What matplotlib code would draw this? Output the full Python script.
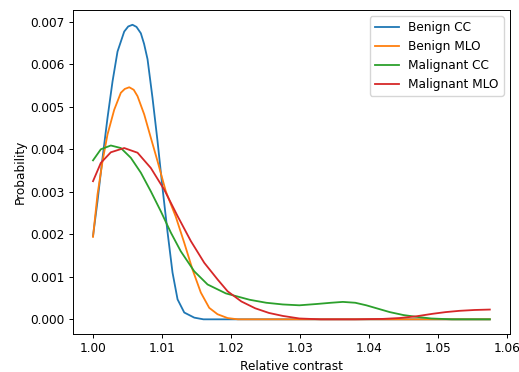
import numpy as np
import matplotlib.pyplot as plt

# values
benign_cc_x = [1.0, 1.00065, 1.00138, 1.0021, 1.00283, 1.00355, 1.00452, 1.0051, 1.00572, 1.0063, 1.00693,
               1.0074, 1.0079, 1.00862, 1.00935, 1.01007, 1.0108, 1.01152, 1.01225, 1.01322, 1.01467, 1.016,
               1.02, 1.03, 1.04, 1.05, 1.0575]
benign_cc_y = [0.00196, 0.00278, 0.0038, 0.00474, 0.0056, 0.0063, 0.00677, 0.00689, 0.00693, 0.00688, 0.00673,
               0.00648, 0.00612, 0.00521, 0.00419, 0.00309, 0.00205, 0.0011, 0.00047, 0.00016, 0.00004, 0.0,
               0.0, 0.0, 0.0, 0.0, 0.0]

benign_mlo_x = [1.0, 1.00065, 1.00138, 1.0021, 1.00307, 1.00403, 1.0046, 1.00525, 1.0059, 1.00645, 1.00742,
                1.00838, 1.00935, 1.01055, 1.012, 1.01322, 1.01442, 1.01562, 1.01684, 1.01804, 1.0195,
                1.021, 1.03, 1.04, 1.05, 1.0575]
benign_mlo_y = [0.00194, 0.00294, 0.00372, 0.00435, 0.00493, 0.00533, 0.00542, 0.00546, 0.0054, 0.00525, 0.00482,
                0.00427, 0.00372, 0.00301, 0.00241, 0.0018, 0.00117, 0.00063, 0.00027, 0.00012, 0.00003,
                0.0, 0.0, 0.0, 0.0, 0.0]

malignant_cc_x = [1.0, 1.00113, 1.00258, 1.00403, 1.00548, 1.00693, 1.00838, 1.00983, 1.01128, 1.01272,
                  1.01467, 1.0166, 1.01925, 1.0227, 1.0251, 1.0275, 1.0299, 1.03235, 1.0345, 1.0362,
                  1.038, 1.0396, 1.0413, 1.043, 1.045, 1.0468, 1.049, 1.052, 1.0575]
malignant_cc_y = [0.00374, 0.004, 0.00409, 0.00403, 0.0038, 0.00345, 0.00301, 0.00254, 0.00204, 0.0016,
                  0.00113, 0.00082, 0.00061, 0.00046, 0.00039, 0.00035, 0.00033, 0.00036, 0.00039, 0.00041,
                  0.00039, 0.00033, 0.00025, 0.00017, 0.0001, 0.00006, 0.00002, 0.0, 0.0]

malignant_mlo_x = [1.0, 1.00113, 1.00258, 1.00452, 1.00645, 1.00838, 1.01032, 1.01225, 1.01418, 1.01612,
                   1.01804, 1.0195, 1.0215, 1.0235, 1.0255, 1.0275, 1.0299, 1.033, 1.038, 1.042,
                   1.0444, 1.0468, 1.0492, 1.0511, 1.0531, 1.0553, 1.0575]
malignant_mlo_y = [0.00325, 0.00368, 0.00393, 0.00403, 0.00392, 0.00356, 0.00305, 0.00243, 0.00184, 0.00133,
                   0.00094, 0.00066, 0.00042, 0.00026, 0.00015, 0.00008, 0.00002, 0.0, 0.0, 0.00001,
                   0.00003, 0.00007, 0.00013, 0.00017, 0.0002, 0.00022, 0.00023]

# reference looks like a default figure scaled down ~0.87
plt.rcParams['font.size'] = 8.7
plt.rcParams['lines.linewidth'] = 1.3
plt.rcParams['axes.linewidth'] = 0.7
plt.rcParams['xtick.major.size'] = 3.0
plt.rcParams['ytick.major.size'] = 3.0
plt.rcParams['xtick.major.width'] = 0.7
plt.rcParams['ytick.major.width'] = 0.7
plt.rcParams['xtick.major.pad'] = 3.0
plt.rcParams['ytick.major.pad'] = 3.0

fig = plt.figure(figsize=(5.19, 3.72), dpi=100)
ax = fig.add_axes([0.141, 0.102, 0.841, 0.871])

ax.plot(benign_cc_x, benign_cc_y, label='Benign CC')
ax.plot(benign_mlo_x, benign_mlo_y, label='Benign MLO')
ax.plot(malignant_cc_x, malignant_cc_y, label='Malignant CC')
ax.plot(malignant_mlo_x, malignant_mlo_y, label='Malignant MLO')

ax.set_xlabel('Relative contrast', labelpad=3)
ax.set_ylabel('Probability', labelpad=3)
ax.legend(loc='upper right')

fig.savefig('out.png', dpi=100)
